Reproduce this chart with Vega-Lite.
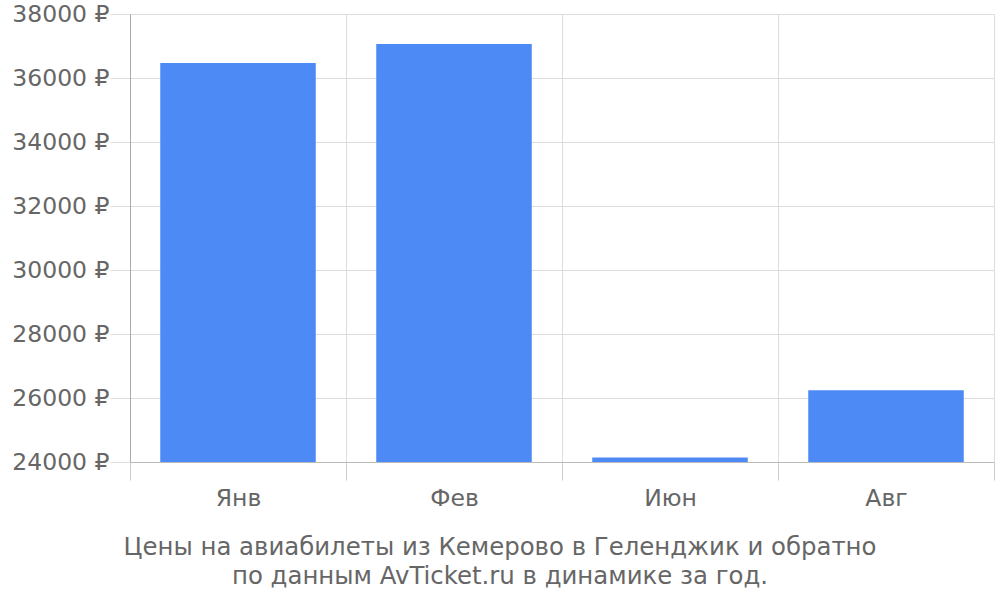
{
  "$schema": "https://vega.github.io/schema/vega-lite/v6.json",
  "width": 864,
  "height": 448,
  "autosize": "none",
  "padding": {"left": 130, "top": 14, "right": 6, "bottom": 138},
  "background": "white",
  "data": {"values": [
    {"month": "Янв", "price": 36467},
    {"month": "Фев", "price": 37065},
    {"month": "Июн", "price": 24140},
    {"month": "Авг", "price": 26245}
  ]},
  "title": {
    "text": ["Цены на авиабилеты из Кемерово в Геленджик и обратно", "по данным AvTicket.ru в динамике за год."],
    "orient": "bottom",
    "anchor": "middle",
    "font": "DejaVu Sans",
    "fontSize": 24.4,
    "fontWeight": "normal",
    "color": "#666666",
    "lineHeight": 29,
    "offset": 26,
    "dx": -62
  },
  "mark": {"type": "bar", "color": "#4d8af5", "clip": true, "width": {"band": 0.72}},
  "encoding": {
    "x": {
      "field": "month", "type": "nominal", "sort": null,
      "scale": {"paddingInner": 0, "paddingOuter": 0},
      "axis": {
        "title": null, "labelAngle": 0, "tickBand": "extent",
        "grid": true, "gridColor": "#dddddd",
        "tickSize": 18, "tickColor": "#cccccc", "domainColor": "#bbbbbb",
        "labelFont": "DejaVu Sans", "labelFontSize": 23.5, "labelColor": "#666666",
        "labelPadding": 6
      }
    },
    "y": {
      "field": "price", "type": "quantitative",
      "scale": {"domain": [24000, 38000], "zero": false, "nice": false},
      "axis": {
        "title": null, "values": [24000, 26000, 28000, 30000, 32000, 34000, 36000, 38000],
        "labelExpr": "datum.value + ' ₽'",
        "grid": true, "gridColor": "#dddddd",
        "tickSize": 20, "tickColor": "#dddddd", "domainColor": "#aaaaaa",
        "labelFont": "DejaVu Sans", "labelFontSize": 23.5, "labelColor": "#666666",
        "labelPadding": 1
      }
    }
  },
  "config": {"view": {"stroke": null}}
}
